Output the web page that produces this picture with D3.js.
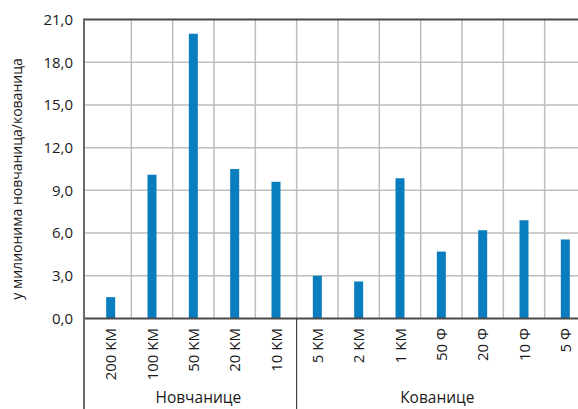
<!DOCTYPE html>
<html><head><meta charset="utf-8">
<script src="https://cdn.jsdelivr.net/npm/d3@7"></script>
<style>body{margin:0;background:#fff}svg{display:block;font-family:"Open Sans",sans-serif}</style>
</head><body>
<svg id="c" width="578" height="409"></svg>
<script>
const categories = ["200 KM","100 KM","50 KM","20 KM","10 KM","5 KM","2 KM","1 KM","50 Ф","20 Ф","10 Ф","5 Ф"];
const values = [1.5, 10.1, 20.0, 10.5, 9.6, 3.0, 2.6, 9.85, 4.7, 6.2, 6.9, 5.55];
const groups = ["Новчанице","Новчанице","Новчанице","Новчанице","Новчанице","Кованице","Кованице","Кованице","Кованице","Кованице","Кованице","Кованице"];
const yTicks = [0,3,6,9,12,15,18,21];
const yTitle = "у милионима новчаница/кованица";

(function(){
const svg = d3.select("#c");
const axisX = 84, plotTop = 19.5, plotBottom = 318.5;
const x = d3.scaleBand().domain(categories).range([90, 586]).padding(0);
const y = d3.scaleLinear().domain([0,21]).range([plotBottom, plotTop]);
const bw = 9;

// horizontal grid
svg.append("g").selectAll("line").data(yTicks.filter(t=>t>0 && t<21)).join("line")
  .attr("x1", axisX).attr("x2", 578).attr("y1", d=>y(d)).attr("y2", d=>y(d))
  .attr("stroke", "#bdbdbd").attr("stroke-width", 1.5);
// vertical grid
svg.append("g").selectAll("line").data(categories.slice(1)).join("line")
  .attr("x1", d=>x(d)).attr("x2", d=>x(d)).attr("y1", plotTop).attr("y2", plotBottom)
  .attr("stroke", "#bdbdbd").attr("stroke-width", 1.5);

// bars
svg.append("g").selectAll("rect").data(categories).join("rect")
  .attr("x", d=>x(d)+x.bandwidth()/2-bw/2).attr("width", bw)
  .attr("y", (d,i)=>y(values[i])).attr("height", (d,i)=>plotBottom-y(values[i]))
  .attr("fill", "#0a7dbf");

// top line
svg.append("line").attr("x1", axisX).attr("x2", 578).attr("y1", plotTop).attr("y2", plotTop)
  .attr("stroke", "#4a4a4a").attr("stroke-width", 2);
// zero line
svg.append("line").attr("x1", axisX).attr("x2", 578).attr("y1", plotBottom).attr("y2", plotBottom)
  .attr("stroke", "#4a4a4a").attr("stroke-width", 2);
// left axis line
svg.append("line").attr("x1", axisX).attr("x2", axisX).attr("y1", plotTop-1).attr("y2", 409)
  .attr("stroke", "#6a6a6a").attr("stroke-width", 2);

// y tick labels
const yAxis = d3.axisLeft(y).tickValues(yTicks).tickSize(0).tickPadding(11)
  .tickFormat(d=>d3.format(".1f")(d).replace(".", ","));
const ga = svg.append("g").attr("transform", `translate(${axisX},0)`).call(yAxis);
ga.select(".domain").remove();
ga.selectAll("text").attr("font-size", 15).attr("fill", "#1a1a1a").attr("font-family", '"Open Sans",sans-serif');

// x category labels rotated
svg.append("g").selectAll("text").data(categories).join("text")
  .attr("transform", d=>`translate(${x(d)+x.bandwidth()/2+5.5},328) rotate(-90)`)
  .attr("text-anchor", "end").attr("font-size", 15).attr("fill", "#1a1a1a")
  .text(d=>d);

// group separator
const firstCoin = categories[groups.indexOf("Кованице")];
svg.append("line").attr("x1", x(firstCoin)).attr("x2", x(firstCoin)).attr("y1", plotBottom).attr("y2", 409)
  .attr("stroke", "#222").attr("stroke-width", 1);

// group labels
const gNames = Array.from(new Set(groups));
gNames.forEach(g=>{
  const cats = categories.filter((c,i)=>groups[i]===g);
  const x0 = Math.max(x(cats[0]), axisX), x1 = Math.min(x(cats[cats.length-1])+x.bandwidth(), 578);
  svg.append("text").attr("x", (x0+x1)/2+ (g==="Новчанице"?5:0)).attr("y", 403)
    .attr("text-anchor", "middle").attr("font-size", 15.5).attr("fill", "#1a1a1a").text(g);
});

// y title
svg.append("text").attr("transform", `translate(22,${(plotTop+plotBottom)/2+10}) rotate(-90)`)
  .attr("text-anchor", "middle").attr("font-size", 14).attr("fill", "#1a1a1a").text(yTitle);
})();
</script>
</body></html>
